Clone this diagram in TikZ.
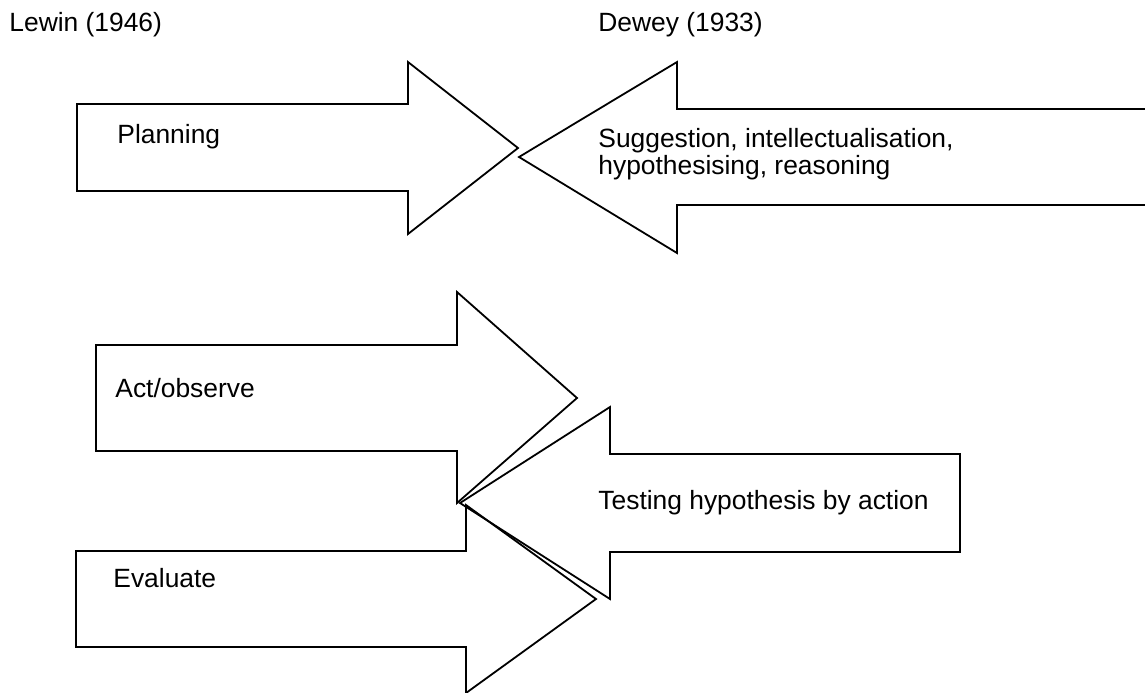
\documentclass[tikz,border=0pt]{standalone}
\usepackage{fontspec}
\setmainfont{Liberation Sans}
\usepackage{tikz}

\begin{document}
\begin{tikzpicture}[x=0.5pt,y=-0.5pt,
  lbl/.style={font=\fontsize{13.2}{12}\selectfont,inner sep=0pt,anchor=west,align=left},
  bigarrow/.style={line width=0.9pt,line join=miter}]
\useasboundingbox (0,0) rectangle (1145,692);
% Headings
\node[lbl] (lewin) at (9,25) {Lewin (1946)};
\node[lbl] (dewey) at (598,25) {Dewey (1933)};
% Planning arrow
\draw[bigarrow] (77,104) -- (408,104) -- (408,62) -- (518,148) -- (408,234) -- (408,191) -- (77,191) -- cycle;
\node[lbl] (plan) at (117,137) {Planning};
% Suggestion arrow, open at the right edge
\draw[bigarrow] (1146,109) -- (677,109) -- (677,62) -- (519,157) -- (677,253) -- (677,205) -- (1146,205);
\node[lbl] (sugg) at (598,154) {Suggestion, intellectualisation,\\hypothesising, reasoning};
% Act/observe arrow
\draw[bigarrow] (96,345) -- (457,345) -- (457,292) -- (577,398) -- (457,503) -- (457,451) -- (96,451) -- cycle;
\node[lbl] (act) at (115,388) {Act/observe};
% Testing arrow
\draw[bigarrow] (960,454) -- (610,454) -- (610,407) -- (460,503) -- (610,599) -- (610,552) -- (960,552) -- cycle;
\node[lbl] (test) at (598,503) {Testing hypothesis by action};
% Evaluate arrow
\draw[bigarrow] (76,551) -- (466,551) -- (466,505) -- (596,599) -- (466,693) -- (466,647) -- (76,647) -- cycle;
\node[lbl] (eval) at (113,578) {Evaluate};
\end{tikzpicture}
\end{document}
